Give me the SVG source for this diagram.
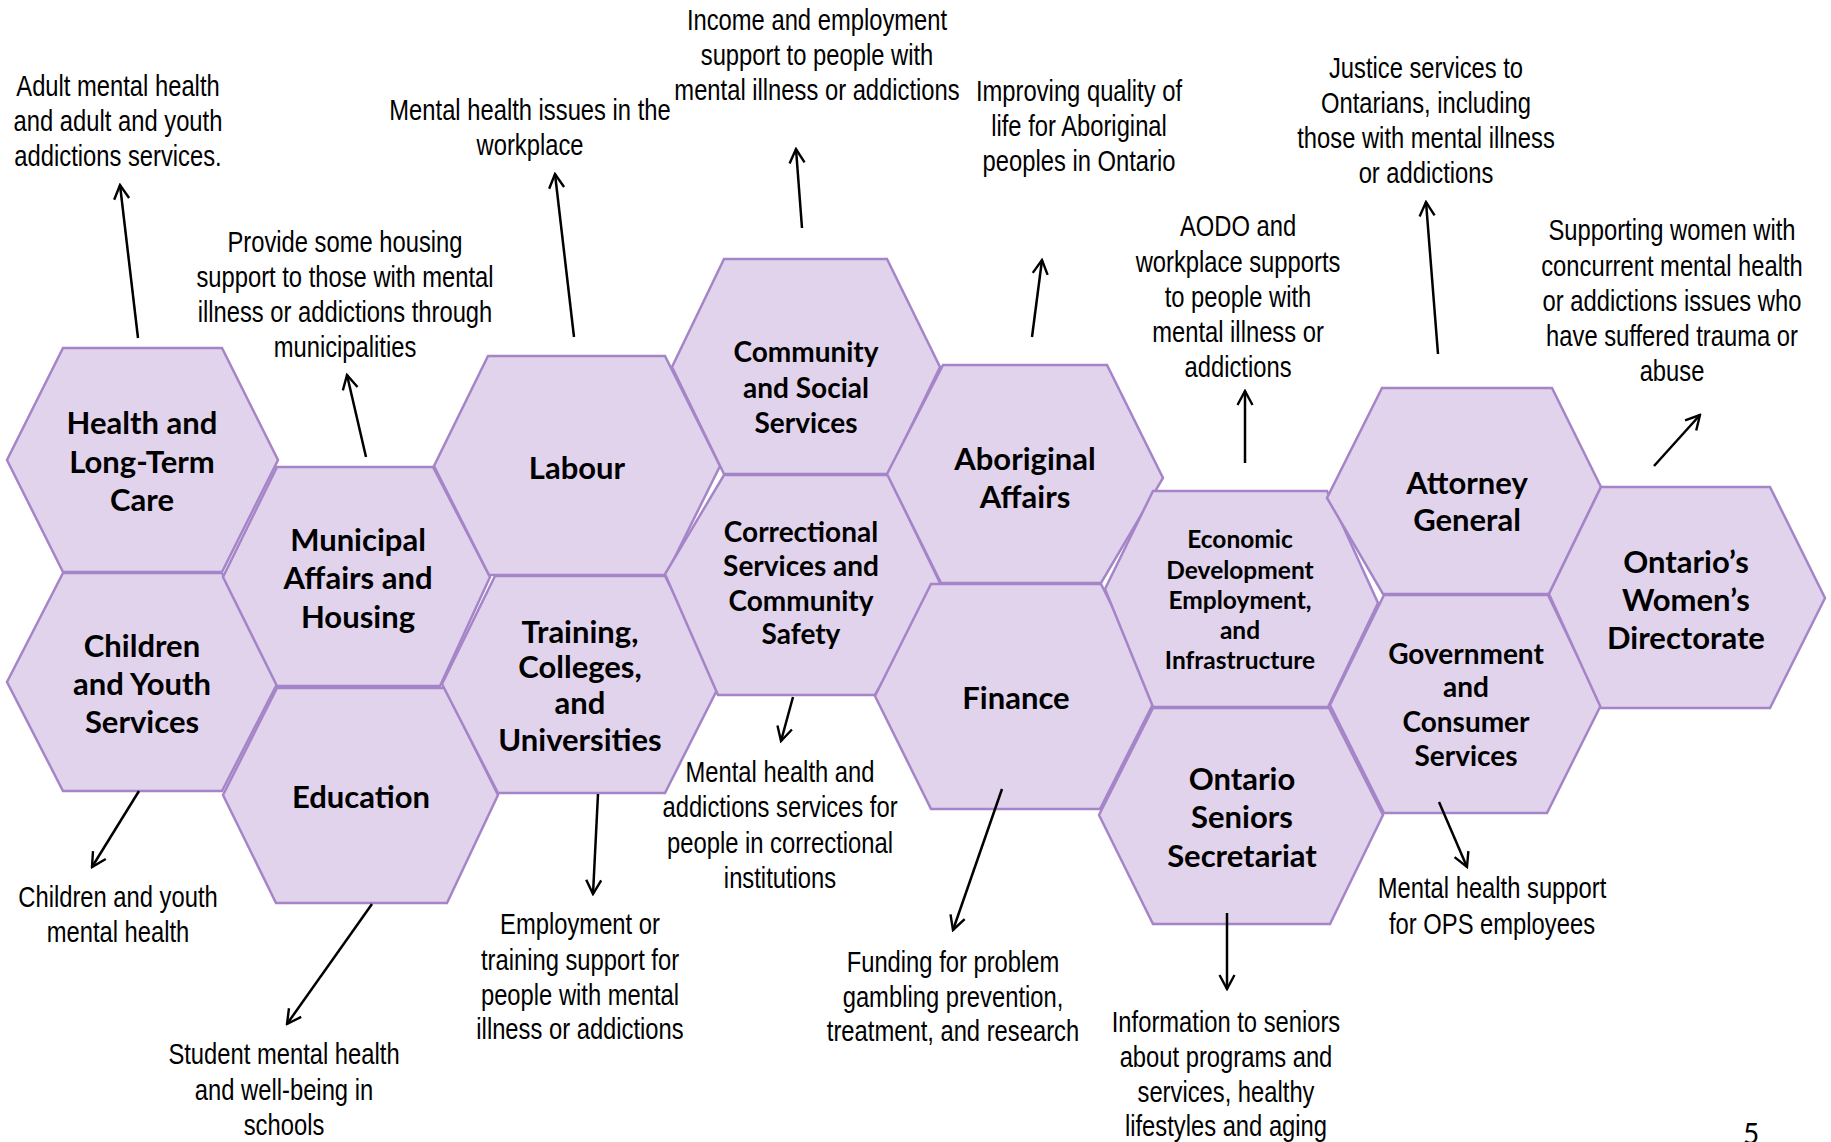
<svg xmlns="http://www.w3.org/2000/svg" width="1831" height="1142" viewBox="0 0 1831 1142">
  <style>
    .hex { fill: #e0d3eb; stroke: #a585c8; stroke-width: 2.5; stroke-linejoin: miter; }
    .h { font-family: Lato, "Noto Sans", sans-serif; font-weight: bold; font-size: 31px; fill: #000; text-anchor: middle; }
    .hm { font-size: 28px; }
    .hs { font-size: 24.5px; }
    /* narrow sans: regular sans condensed horizontally via each text's transform */
    .d { font-family: "Liberation Sans", Arial, sans-serif; font-size: 29px; fill: #000; text-anchor: middle; }
    .arrow { stroke: #000; stroke-width: 2.5; fill: none; marker-end: url(#head); }
  </style>
  <defs>
    <marker id="head" viewBox="0 0 18 18" refX="16" refY="9" markerWidth="18" markerHeight="18" markerUnits="userSpaceOnUse" orient="auto">
      <path d="M2,1.5 L16,9 L2,16.5" fill="none" stroke="#000" stroke-width="2.4"/>
    </marker>
  </defs>
  <rect width="1831" height="1142" fill="#fff"/>

  <!-- ministries -->
  <g id="health">
    <polygon class="hex" points="63,348 222,348 278,460 222,572 63,572 7,460"/>
    <text class="h"><tspan x="142" y="434">Health and</tspan><tspan x="142" y="473">Long-Term</tspan><tspan x="142" y="511">Care</tspan></text>
  </g>
  <g id="children">
    <polygon class="hex" points="63,573 222,573 278,682 222,791 63,791 7,682"/>
    <text class="h"><tspan x="142" y="657">Children</tspan><tspan x="142" y="695">and Youth</tspan><tspan x="142" y="733">Services</tspan></text>
  </g>
  <g id="municipal">
    <polygon class="hex" points="277,467 433,467 490,577 440,686 277,686 223,577"/>
    <text class="h"><tspan x="358" y="551">Municipal</tspan><tspan x="358" y="589">Affairs and</tspan><tspan x="358" y="628">Housing</tspan></text>
  </g>
  <g id="education">
    <polygon class="hex" points="277,688 445,688 498,795 447,903 276,903 223,795"/>
    <text class="h" x="361" y="808">Education</text>
  </g>
  <g id="labour">
    <polygon class="hex" points="488,356 665,356 720,466 666,575 489,575 434,466"/>
    <text class="h" x="577" y="479">Labour</text>
  </g>
  <g id="training">
    <polygon class="hex" points="495,576 665,576 720,684 665,793 498,793 442,684"/>
    <text class="h"><tspan x="580" y="643">Training,</tspan><tspan x="580" y="678">Colleges,</tspan><tspan x="580" y="714">and</tspan><tspan x="580" y="751">Universities</tspan></text>
  </g>
  <g id="community">
    <polygon class="hex" points="724,259 887,259 940,367 888,474 724,474 672,367"/>
    <text class="h hm"><tspan x="806" y="362">Community</tspan><tspan x="806" y="398">and Social</tspan><tspan x="806" y="433">Services</tspan></text>
  </g>
  <g id="correctional">
    <polygon class="hex" points="724,475 888,475 940,583 875,695 718,695 665,574"/>
    <text class="h hm"><tspan x="801" y="542">Correctional</tspan><tspan x="801" y="576">Services and</tspan><tspan x="801" y="611">Community</tspan><tspan x="801" y="644">Safety</tspan></text>
  </g>
  <g id="aboriginal">
    <polygon class="hex" points="943,365 1107,365 1163,478 1101,583 941,583 887,474"/>
    <text class="h"><tspan x="1025" y="470">Aboriginal</tspan><tspan x="1025" y="508">Affairs</tspan></text>
  </g>
  <g id="finance">
    <polygon class="hex" points="931,584 1101,584 1157,696 1100,809 931,809 875,696"/>
    <text class="h" x="1016" y="709">Finance</text>
  </g>
  <g id="economic">
    <polygon class="hex" points="1153,491 1327,491 1378,603 1328,707 1153,707 1105,589"/>
    <text class="h hs"><tspan x="1240" y="548">Economic</tspan><tspan x="1240" y="579">Development</tspan><tspan x="1240" y="609">Employment,</tspan><tspan x="1240" y="639">and</tspan><tspan x="1240" y="669">Infrastructure</tspan></text>
  </g>
  <g id="seniors">
    <polygon class="hex" points="1153,708 1329,708 1383,815 1330,924 1153,924 1099,815"/>
    <text class="h"><tspan x="1242" y="790">Ontario</tspan><tspan x="1242" y="828">Seniors</tspan><tspan x="1242" y="867">Secretariat</tspan></text>
  </g>
  <g id="attorney">
    <polygon class="hex" points="1382,388 1552,388 1601,487 1549,594 1383,594 1327,498"/>
    <text class="h"><tspan x="1467" y="494">Attorney</tspan><tspan x="1467" y="531">General</tspan></text>
  </g>
  <g id="government">
    <polygon class="hex" points="1384,595 1548,595 1601,705 1547,813 1384,813 1330,705"/>
    <text class="h hm"><tspan x="1466" y="664">Government</tspan><tspan x="1466" y="697">and</tspan><tspan x="1466" y="732">Consumer</tspan><tspan x="1466" y="766">Services</tspan></text>
  </g>
  <g id="womens">
    <polygon class="hex" points="1601,487 1770,487 1825,598 1770,708 1601,708 1549,594"/>
    <text class="h"><tspan x="1686" y="573">Ontario’s</tspan><tspan x="1686" y="611">Women’s</tspan><tspan x="1686" y="649">Directorate</tspan></text>
  </g>

  <!-- connectors from each ministry to its role -->
  <g id="connectors">
    <line class="arrow" x1="138" y1="338" x2="120" y2="185"/>
    <line class="arrow" x1="366" y1="457" x2="347" y2="375"/>
    <line class="arrow" x1="574" y1="337" x2="555" y2="174"/>
    <line class="arrow" x1="802" y1="228" x2="796" y2="149"/>
    <line class="arrow" x1="1032" y1="337" x2="1042" y2="260"/>
    <line class="arrow" x1="1245" y1="463" x2="1245" y2="391"/>
    <line class="arrow" x1="1438" y1="354" x2="1426" y2="202"/>
    <line class="arrow" x1="1654" y1="466" x2="1700" y2="415"/>
    <line class="arrow" x1="139" y1="791" x2="92" y2="867"/>
    <line class="arrow" x1="372" y1="904" x2="287" y2="1024"/>
    <line class="arrow" x1="598" y1="794" x2="593" y2="894"/>
    <line class="arrow" x1="793" y1="697" x2="781" y2="741"/>
    <line class="arrow" x1="1002" y1="789" x2="953" y2="930"/>
    <line class="arrow" x1="1227" y1="913" x2="1227" y2="989"/>
    <line class="arrow" x1="1439" y1="802" x2="1467" y2="867"/>
  </g>

  <!-- role descriptions (each block centred on its x, condensed to 82%) -->
  <g id="roles">
    <text class="d" transform="matrix(0.82 0 0 1 118 0)"><tspan x="0" y="96">Adult mental health</tspan><tspan x="0" y="131">and adult and youth</tspan><tspan x="0" y="166">addictions services.</tspan></text>
    <text class="d" transform="matrix(0.82 0 0 1 345 0)"><tspan x="0" y="252">Provide some housing</tspan><tspan x="0" y="287">support to those with mental</tspan><tspan x="0" y="322">illness or addictions through</tspan><tspan x="0" y="357">municipalities</tspan></text>
    <text class="d" transform="matrix(0.82 0 0 1 530 0)"><tspan x="0" y="120">Mental health issues in the</tspan><tspan x="0" y="155">workplace</tspan></text>
    <text class="d" transform="matrix(0.82 0 0 1 817 0)"><tspan x="0" y="30">Income and employment</tspan><tspan x="0" y="65">support to people with</tspan><tspan x="0" y="100">mental illness or addictions</tspan></text>
    <text class="d" transform="matrix(0.82 0 0 1 1079 0)"><tspan x="0" y="101">Improving quality of</tspan><tspan x="0" y="136">life for Aboriginal</tspan><tspan x="0" y="171">peoples in Ontario</tspan></text>
    <text class="d" transform="matrix(0.82 0 0 1 1426 0)"><tspan x="0" y="78">Justice services to</tspan><tspan x="0" y="113">Ontarians, including</tspan><tspan x="0" y="148">those with mental illness</tspan><tspan x="0" y="183">or addictions</tspan></text>
    <text class="d" transform="matrix(0.82 0 0 1 1238 0)"><tspan x="0" y="236">AODO and</tspan><tspan x="0" y="272">workplace supports</tspan><tspan x="0" y="307">to people with</tspan><tspan x="0" y="342">mental illness or</tspan><tspan x="0" y="377">addictions</tspan></text>
    <text class="d" transform="matrix(0.82 0 0 1 1672 0)"><tspan x="0" y="240">Supporting women with</tspan><tspan x="0" y="276">concurrent mental health</tspan><tspan x="0" y="311">or addictions issues who</tspan><tspan x="0" y="346">have suffered trauma or</tspan><tspan x="0" y="381">abuse</tspan></text>
    <text class="d" transform="matrix(0.82 0 0 1 118 0)"><tspan x="0" y="907">Children and youth</tspan><tspan x="0" y="942">mental health</tspan></text>
    <text class="d" transform="matrix(0.82 0 0 1 284 0)"><tspan x="0" y="1064">Student mental health</tspan><tspan x="0" y="1100">and well-being in</tspan><tspan x="0" y="1135">schools</tspan></text>
    <text class="d" transform="matrix(0.82 0 0 1 580 0)"><tspan x="0" y="934">Employment or</tspan><tspan x="0" y="970">training support for</tspan><tspan x="0" y="1005">people with mental</tspan><tspan x="0" y="1039">illness or addictions</tspan></text>
    <text class="d" transform="matrix(0.82 0 0 1 780 0)"><tspan x="0" y="782">Mental health and</tspan><tspan x="0" y="817">addictions services for</tspan><tspan x="0" y="853">people in correctional</tspan><tspan x="0" y="888">institutions</tspan></text>
    <text class="d" transform="matrix(0.82 0 0 1 953 0)"><tspan x="0" y="972">Funding for problem</tspan><tspan x="0" y="1007">gambling prevention,</tspan><tspan x="0" y="1041">treatment, and research</tspan></text>
    <text class="d" transform="matrix(0.82 0 0 1 1226 0)"><tspan x="0" y="1032">Information to seniors</tspan><tspan x="0" y="1067">about programs and</tspan><tspan x="0" y="1102">services, healthy</tspan><tspan x="0" y="1136">lifestyles and aging</tspan></text>
    <text class="d" transform="matrix(0.82 0 0 1 1492 0)"><tspan x="0" y="898">Mental health support</tspan><tspan x="0" y="934">for OPS employees</tspan></text>
  </g>

  <text x="1751" y="1144" font-family="Lato, 'Noto Sans', sans-serif" font-size="28" text-anchor="middle" fill="#000">5</text>
</svg>
